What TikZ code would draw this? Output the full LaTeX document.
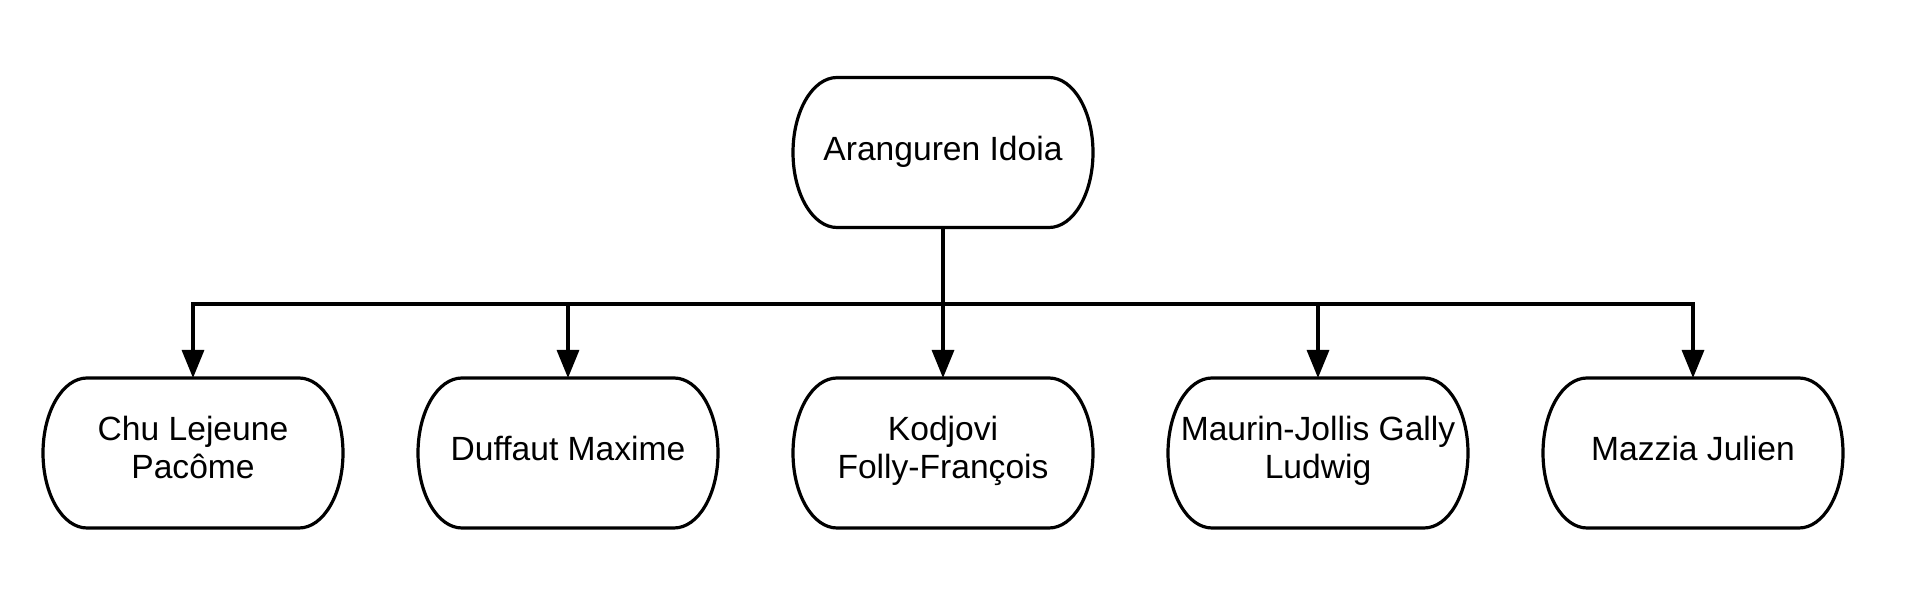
\documentclass[tikz,border=0pt]{standalone}
\usepackage{fontspec}
\setmainfont{Liberation Sans}
\usetikzlibrary{arrows.meta}

\tikzset{every picture/.style={line width=1.6pt}}
\tikzset{
  person/.style={inner sep=0pt, outer sep=0pt, minimum width=150pt, minimum height=75pt, align=center,
    font=\fontsize{16.8}{19}\selectfont, execute at begin node=\strut, execute at end node=\strut},
  link/.style={-{Triangle[length=14pt,width=11pt]}},
}

\begin{document}
\begin{tikzpicture}[x=0.5pt,y=0.5pt,yscale=-1,xscale=1]
	\useasboundingbox (0,0) rectangle (1928,608);

	% Text Nodes
	\node [person] (root) at (943,152.5) {Aranguren Idoia};
	\node [person] (chu) at (193,453) {Chu Lejeune\\Pacôme};
	\node [person] (duffaut) at (568,453) {Duffaut Maxime};
	\node [person] (kodjovi) at (943,453) {Kodjovi\\Folly-François};
	\node [person] (maurin) at (1318,453) {Maurin-Jollis Gally\\Ludwig};
	\node [person] (mazzia) at (1693,453) {Mazzia Julien};

	%Shape: Terminator outlines
	\foreach \n in {root,chu,duffaut,kodjovi,maurin,mazzia}
		\draw ([shift={(44,0)}]\n.north west) -- ([shift={(-44,0)}]\n.north east)
			arc[start angle=-90, end angle=90, x radius=44, y radius=75]
			-- ([shift={(44,0)}]\n.south west)
			arc[start angle=90, end angle=270, x radius=44, y radius=75] -- cycle;

	%Straight Lines
	\coordinate (bar) at (943,304);
	\foreach \n in {chu,duffaut,kodjovi,maurin,mazzia}
		\draw [link] (root.south) -- (bar) -| (\n.north);

\end{tikzpicture}
\end{document}
